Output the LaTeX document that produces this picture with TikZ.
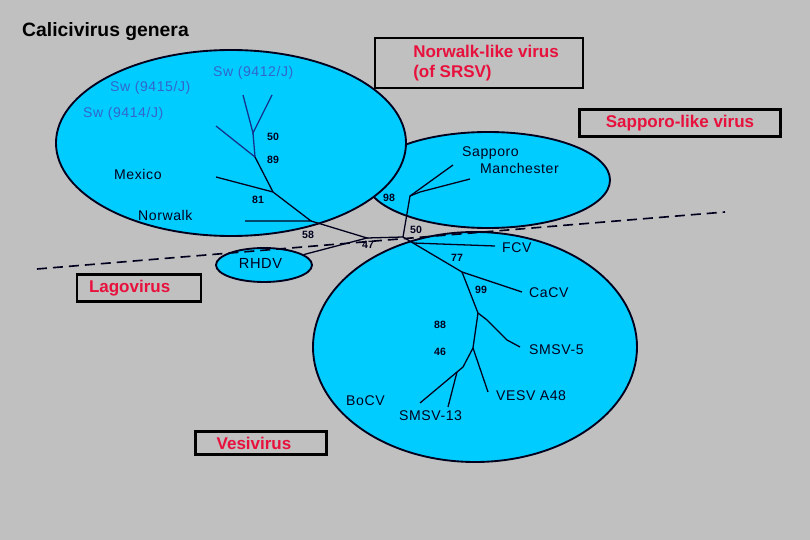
\documentclass[tikz,border=0pt]{standalone}
\usepackage{fontspec}
\setmainfont{Liberation Sans}
\newfontfamily\spacedfont[LetterSpace=4]{Liberation Sans}
\usetikzlibrary{shapes.geometric}
\definecolor{bggray}{RGB}{192,192,192}
\definecolor{cladecyan}{RGB}{0,204,255}
\definecolor{ink}{RGB}{0,0,30}
\definecolor{swblue}{RGB}{51,102,204}
\definecolor{branchblue}{RGB}{20,50,140}
\definecolor{genred}{RGB}{232,16,60}

\begin{document}
\begin{tikzpicture}[x=0.03cm, y=-0.03cm,
    clade/.style={ellipse, draw=ink, line width=1.6pt, fill=cladecyan, inner sep=0pt},
    genbox/.style={rectangle, draw=black, line width=2.4pt, text=genred, font=\fontsize{14.5}{16.5}\selectfont\bfseries, inner sep=0pt},
    branch/.style={line width=1.1pt, draw=#1},
    branch/.default=ink,
    leaf/.style={anchor=west, inner sep=0pt, font=\spacedfont\fontsize{12}{14}\selectfont, text=#1},
    leaf/.default=ink,
    boot/.style={inner sep=0pt, font=\fontsize{9}{10}\selectfont\bfseries, text=ink}
]
    % Fond
    \fill[bggray] (0,0) rectangle (810,540);
    \useasboundingbox (0,0) rectangle (810,540);

    % Ellipses des genres
    \node[clade, minimum width=7.32cm, minimum height=2.88cm] (sapclade) at (488,180) {};
    \node[clade, minimum width=10.5cm, minimum height=5.58cm] (nlvclade) at (231,143) {};
    \node[clade, minimum width=9.72cm, minimum height=6.9cm] (vesclade) at (475,347) {};
    \node[clade, minimum width=2.88cm, minimum height=1.02cm, font=\spacedfont\fontsize{12.5}{14}\selectfont, text=ink] (rhdv) at (264,265) {\raisebox{2pt}{RHDV}\kern6pt};

    % Noeuds de l'arbre
    \coordinate (sw12a) at (243,95);
    \coordinate (sw12b) at (272,95);
    \coordinate (n50) at (253,133);
    \coordinate (sw15) at (216,126);
    \coordinate (n89) at (255,157);
    \coordinate (mex) at (216,177);
    \coordinate (n81) at (273,192);
    \coordinate (nor) at (245,221);
    \coordinate (n58) at (311,221);
    \coordinate (n47) at (367,238);
    \coordinate (nmid) at (403,237);
    \coordinate (sroot) at (410,196);
    \coordinate (skink) at (420,192);
    \coordinate (sap) at (453,165);
    \coordinate (man) at (470,179);
    \coordinate (vroot) at (413,243);
    \coordinate (fcv) at (495,246);
    \coordinate (n77) at (462,272);
    \coordinate (cacv) at (522,292);
    \coordinate (n99) at (478,313);
    \coordinate (sm5a) at (487,320);
    \coordinate (sm5b) at (507,340);
    \coordinate (sm5) at (520,347);
    \coordinate (n88) at (473,348);
    \coordinate (vesv) at (488,392);
    \coordinate (n46k) at (463,367);
    \coordinate (n46) at (457,372);
    \coordinate (bocv) at (420,403);
    \coordinate (sm13) at (448,407);

    % Branches Norwalk-like
    \draw[branch=branchblue] (sw12a) -- (n50) -- (sw12b);
    \draw[branch=branchblue] (n50) -- (n89) -- (sw15);
    \draw[branch] (n89) -- (n81) -- (mex);
    \draw[branch] (n81) -- (n58) -- (nor);
    \draw[branch] (n58) -- (n47) -- (rhdv);
    % Branches Sapporo-like
    \draw[branch] (n47) -- (nmid) -- (sroot) -- (sap);
    \draw[branch] (sroot) -- (skink) -- (man);
    % Branches Vesivirus
    \draw[branch] (nmid) -- (vroot) -- (fcv);
    \draw[branch] (vroot) -- (n77) -- (cacv);
    \draw[branch] (n77) -- (n99) -- (sm5a) -- (sm5b) -- (sm5);
    \draw[branch] (n99) -- (n88) -- (vesv);
    \draw[branch] (n88) -- (n46k) -- (n46) -- (bocv);
    \draw[branch] (n46) -- (sm13);

    % Ligne de partage
    \coordinate (divl) at (37,269);
    \coordinate (divr) at (725,212);
    \draw[ink, line width=1.4pt, dash pattern=on 0.3cm off 0.18cm] (divl) -- (divr);

    % Noms des souches
    \node[leaf=swblue] (l9412) at (213,73) {Sw (9412/J)};
    \node[leaf=swblue] (l9415) at (110,88) {Sw (9415/J)};
    \node[leaf=swblue] (l9414) at (83,114) {Sw (9414/J)};
    \node[leaf] (lmex) at (114,174) {Mexico};
    \node[leaf] (lnor) at (138,215) {Norwalk};
    \node[leaf] (lsap) at (462,153) {Sapporo};
    \node[leaf] (lman) at (480,168) {Manchester};
    \node[leaf] (lfcv) at (502,248) {FCV};
    \node[leaf] (lcacv) at (529,293) {CaCV};
    \node[leaf] (lsm5) at (529,350) {SMSV-5};
    \node[leaf] (lvesv) at (496,396) {VESV A48};
    \node[leaf] (lbocv) at (346,401) {BoCV};
    \node[leaf] (lsm13) at (399,416) {SMSV-13};

    % Valeurs bootstrap
    \node[boot] (b50a) at (273,137) {50};
    \node[boot] (b89) at (273,160) {89};
    \node[boot] (b81) at (258,200) {81};
    \node[boot] (b98) at (389,198) {98};
    \node[boot] (b58) at (308,235) {58};
    \node[boot] (b47) at (368,245) {47};
    \node[boot] (b50b) at (416,230) {50};
    \node[boot] (b77) at (457,258) {77};
    \node[boot] (b99) at (481,290) {99};
    \node[boot] (b88) at (440,325) {88};
    \node[boot] (b46) at (440,352) {46};

    % Titre et genres
    \node[anchor=west, inner sep=0pt, font=\fontsize{16.5}{18}\selectfont\bfseries, text=black] (title) at (22,32) {Calicivirus genera};
    \node[genbox, minimum width=6.24cm, minimum height=1.5cm, align=left] (nlvbox) at (479,63) {\hspace{12pt}Norwalk-like virus\\\hspace{12pt}(of SRSV)};
    \node[genbox, minimum width=6.03cm, minimum height=0.81cm] (sapbox) at (680,123) {Sapporo-like virus};
    \node[genbox, minimum width=3.72cm, minimum height=0.81cm] (lagbox) at (139,288) {Lagovirus\kern16pt};
    \node[genbox, minimum width=3.93cm, minimum height=0.69cm] (vesbox) at (261,443) {Vesivirus\kern12pt};

\end{tikzpicture}
\end{document}
